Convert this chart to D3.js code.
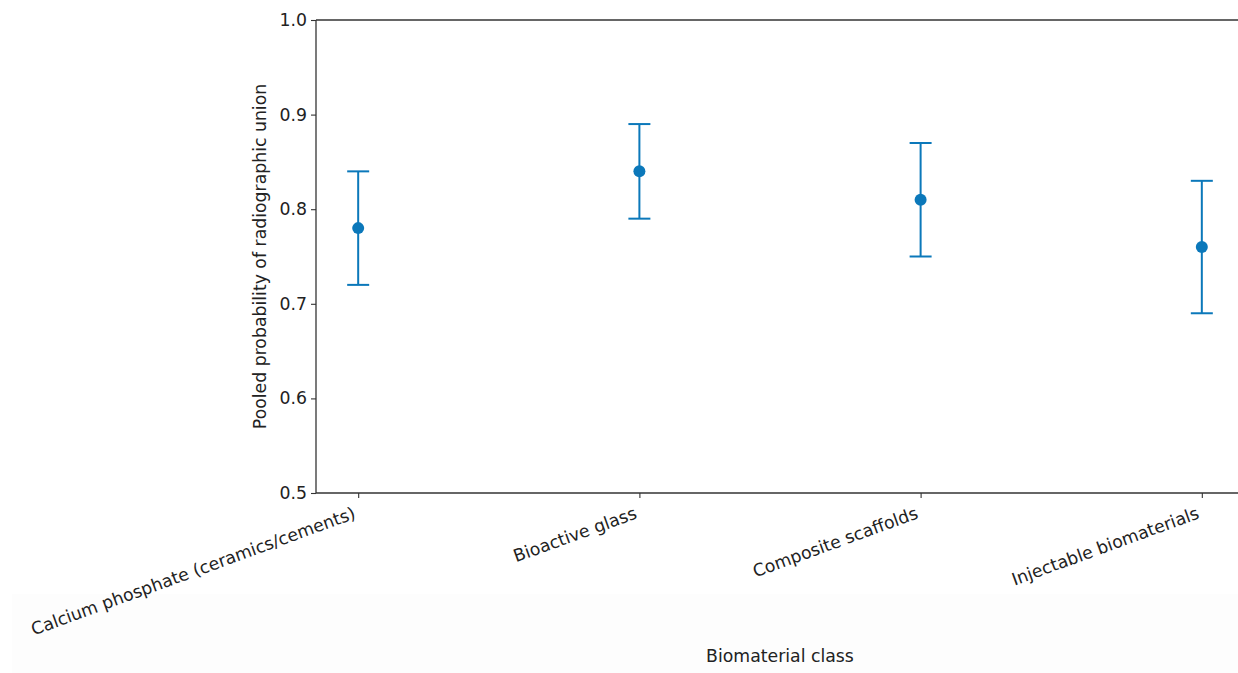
<!DOCTYPE html>
<html>
<head>
<meta charset="utf-8">
<script src="https://cdn.jsdelivr.net/npm/d3@7"></script>
<style>
  body { margin: 0; background: #fff; }
  svg { display: block; font-family: "DejaVu Sans", sans-serif; }
</style>
</head>
<body>
<svg id="chart" width="1238" height="673"></svg>
<script>
const categories = ["Calcium phosphate (ceramics/cements)", "Bioactive glass", "Composite scaffolds", "Injectable biomaterials"];
const estimates = [0.78, 0.84, 0.81, 0.76];
const lower = [0.72, 0.79, 0.75, 0.69];
const upper = [0.84, 0.89, 0.87, 0.83];
const yTicks = [0.5, 0.6, 0.7, 0.8, 0.9, 1.0];

const svg = d3.select("#chart");
const plotLeft = 316, plotRight = 1244, plotTop = 20, plotBottom = 493;
const color = "#0b78ba";
const fs = 17.3;

// faint screenshot backdrop at the bottom
svg.append("rect").attr("x", 12).attr("y", 594).attr("width", 1226).attr("height", 79).attr("fill", "#fdfdfd");

const x = d3.scaleLinear().domain([-0.15, categories.length - 1 + 0.15]).range([plotLeft, plotRight]);
const y = d3.scaleLinear().domain([0.5, 1.0]).range([plotBottom, plotTop]);

// axes
const yAxis = svg.append("g").attr("transform", `translate(${plotLeft},0)`)
  .call(d3.axisLeft(y).tickValues(yTicks).tickFormat(d3.format(".1f")).tickSize(5).tickPadding(4));
const xAxis = svg.append("g").attr("transform", `translate(0,${plotBottom})`)
  .call(d3.axisBottom(x).tickValues(d3.range(categories.length)).tickFormat("").tickSize(5));
svg.selectAll(".domain").remove();
svg.selectAll(".tick line").attr("stroke", "#333").attr("stroke-width", 1.1);
yAxis.selectAll("text").attr("font-size", fs).attr("fill", "#222").attr("font-family", "DejaVu Sans");

// spines (left, bottom, top)
svg.append("line").attr("x1", plotLeft).attr("x2", plotLeft).attr("y1", plotTop).attr("y2", plotBottom).attr("stroke", "#333").attr("stroke-width", 1.3);
svg.append("line").attr("x1", plotLeft).attr("x2", plotRight).attr("y1", plotBottom).attr("y2", plotBottom).attr("stroke", "#333").attr("stroke-width", 1.3);
svg.append("line").attr("x1", plotLeft).attr("x2", plotRight).attr("y1", plotTop).attr("y2", plotTop).attr("stroke", "#333").attr("stroke-width", 1.3);

// rotated category labels
svg.append("g").selectAll("text").data(categories).join("text")
  .attr("transform", (d, i) => `translate(${x(i) - 1.5},${plotBottom + 25}) rotate(-20)`)
  .attr("text-anchor", "end")
  .attr("font-size", fs).attr("fill", "#222")
  .text(d => d);

// error bars
const g = svg.append("g");
categories.forEach((c, i) => {
  g.append("line").attr("x1", x(i)).attr("x2", x(i)).attr("y1", y(lower[i])).attr("y2", y(upper[i]))
    .attr("stroke", color).attr("stroke-width", 2);
  [lower[i], upper[i]].forEach(v => {
    g.append("line").attr("x1", x(i) - 11).attr("x2", x(i) + 11).attr("y1", y(v)).attr("y2", y(v))
      .attr("stroke", color).attr("stroke-width", 2);
  });
  g.append("circle").attr("cx", x(i)).attr("cy", y(estimates[i])).attr("r", 6).attr("fill", color);
});

// axis titles
svg.append("text").attr("x", 780).attr("y", 662).attr("text-anchor", "middle")
  .attr("font-size", fs).attr("fill", "#222").text("Biomaterial class");
svg.append("text").attr("transform", `translate(266,${(plotTop + plotBottom) / 2}) rotate(-90)`)
  .attr("text-anchor", "middle").attr("font-size", fs).attr("fill", "#222")
  .text("Pooled probability of radiographic union");
</script>
</body>
</html>
